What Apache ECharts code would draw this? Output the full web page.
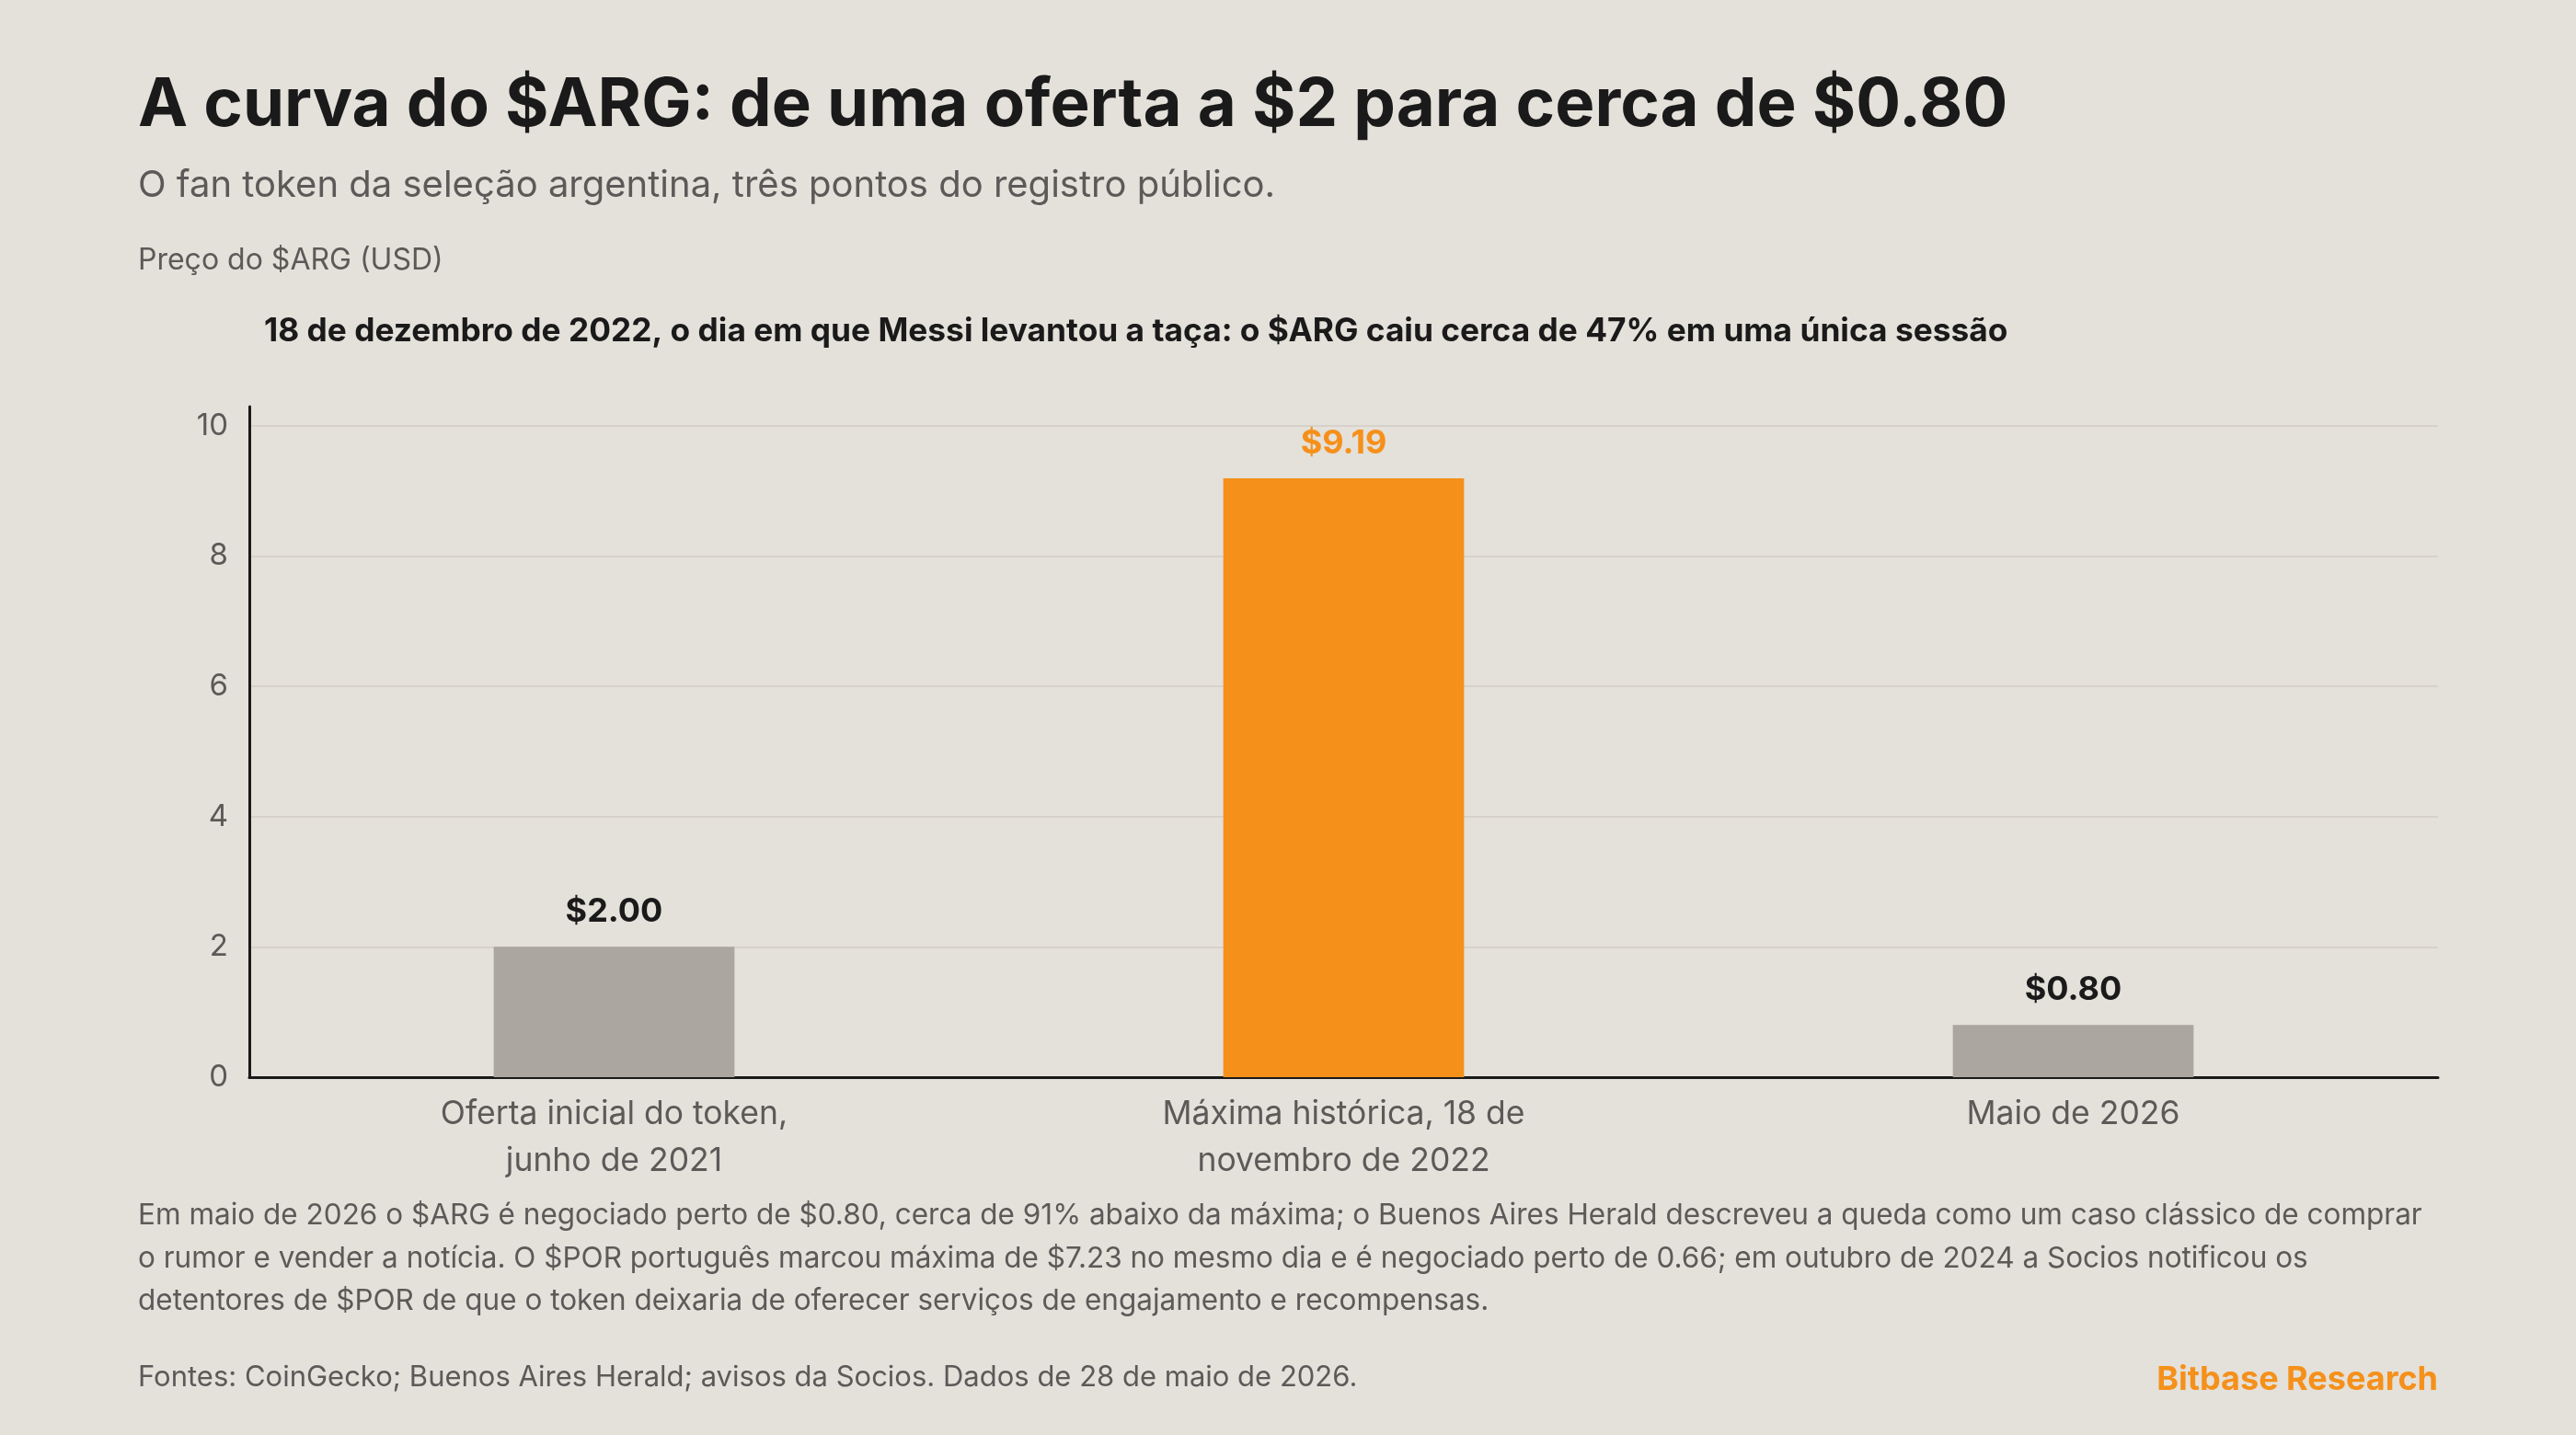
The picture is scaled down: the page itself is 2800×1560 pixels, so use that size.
<!DOCTYPE html>
<html>
<head>
<meta charset="utf-8">
<script src="https://cdn.jsdelivr.net/npm/echarts@6/dist/echarts.min.js"></script>
<style>
html,body{margin:0;padding:0;background:#E4E0DA;}
#chart{width:2800px;height:1560px;}
</style>
</head>
<body>
<div id="chart"></div>
<script>
const categories = [
  'Oferta inicial do token,\njunho de 2021',
  'Máxima histórica, 18 de\nnovembro de 2022',
  'Maio de 2026'
];
const prices = [2.00, 9.19, 0.80];
const highlightIndex = 1;
const yTicks = [0, 2, 4, 6, 8, 10];

const titleText = 'A curva do $ARG: de uma oferta a $2 para cerca de $0.80';
const subtitleText = 'O fan token da seleção argentina, três pontos do registro público.';
const axisTitleText = 'Preço do $ARG (USD)';
const annotationText = '18 de dezembro de 2022, o dia em que Messi levantou a taça: o $ARG caiu cerca de 47% em uma única sessão';
const noteLines = [
  'Em maio de 2026 o $ARG é negociado perto de $0.80, cerca de 91% abaixo da máxima; o Buenos Aires Herald descreveu a queda como um caso clássico de comprar',
  'o rumor e vender a notícia. O $POR português marcou máxima de $7.23 no mesmo dia e é negociado perto de 0.66; em outubro de 2024 a Socios notificou os',
  'detentores de $POR de que o token deixaria de oferecer serviços de engajamento e recompensas.'
];
const sourceText = 'Fontes: CoinGecko; Buenos Aires Herald; avisos da Socios. Dados de 28 de maio de 2026.';
const brandText = 'Bitbase Research';

const FONT = 'Inter, "Noto Sans", sans-serif';
const ORANGE = '#F5901A';
const GREY_BAR = '#ABA69F';
const DARK = '#1A1A1A';
const MUTED = '#5C5A58';

const chart = echarts.init(document.getElementById('chart'), null, {renderer: 'canvas'});

function txt(x, y, text, font, fill, align) {
  return {type:'text', x:x, y:y, style:{text:text, font:font, fill:fill, align:align || 'left', verticalAlign:'middle'}};
}

const graphics = [
  txt(150, 115, titleText, 'bold 72.5px ' + FONT, DARK),
  txt(150, 202, subtitleText, '40px ' + FONT, MUTED),
  txt(150, 283, axisTitleText, '32px ' + FONT, MUTED),
  txt(287, 360, annotationText, 'bold 35.3px ' + FONT, DARK),
  txt(150, 1498, sourceText, '31px ' + FONT, MUTED),
  txt(2650, 1500, brandText, 'bold 36px ' + FONT, ORANGE, 'right')
];
noteLines.forEach(function(line, i){
  graphics.push(txt(150, 1322 + i*46.5, line, '31.5px ' + FONT, MUTED));
});

chart.setOption({
  backgroundColor:'#E4E0DA',
  animation:false,
  textStyle:{fontFamily:FONT},
  grid:{left:271, right:150, top:442, bottom:389, containLabel:false},
  xAxis:{
    type:'category',
    data:categories,
    axisLine:{show:true, lineStyle:{color:DARK, width:3}},
    axisTick:{show:false},
    axisLabel:{fontSize:35.5, color:MUTED, lineHeight:51, margin:15, fontFamily:FONT},
    splitLine:{show:false}
  },
  yAxis:{
    type:'value',
    min:0,
    max:Math.max.apply(null, prices) * 1.12,
    interval:2,
    axisLine:{show:true, lineStyle:{color:DARK, width:3}},
    axisTick:{show:false},
    axisLabel:{fontSize:33, color:MUTED, margin:23, fontFamily:FONT, showMaxLabel:false,
      formatter:function(v){ return yTicks.indexOf(v) >= 0 ? String(v) : ''; }},
    splitLine:{show:true, showMaxLine:false, lineStyle:{color:'#D6D1CB', width:2}}
  },
  series:[{
    type:'bar',
    barWidth:'33%',
    data:prices.map(function(v, i){
      return {
        value:v,
        itemStyle:{color: i === highlightIndex ? ORANGE : GREY_BAR},
        label:{color: i === highlightIndex ? ORANGE : DARK}
      };
    }),
    label:{
      show:true,
      position:'top',
      distance:20,
      fontSize:36,
      fontWeight:'bold',
      fontFamily:FONT,
      formatter:function(p){ return '$' + p.value.toFixed(2); }
    }
  }],
  graphic:graphics
});
</script>
</body>
</html>
